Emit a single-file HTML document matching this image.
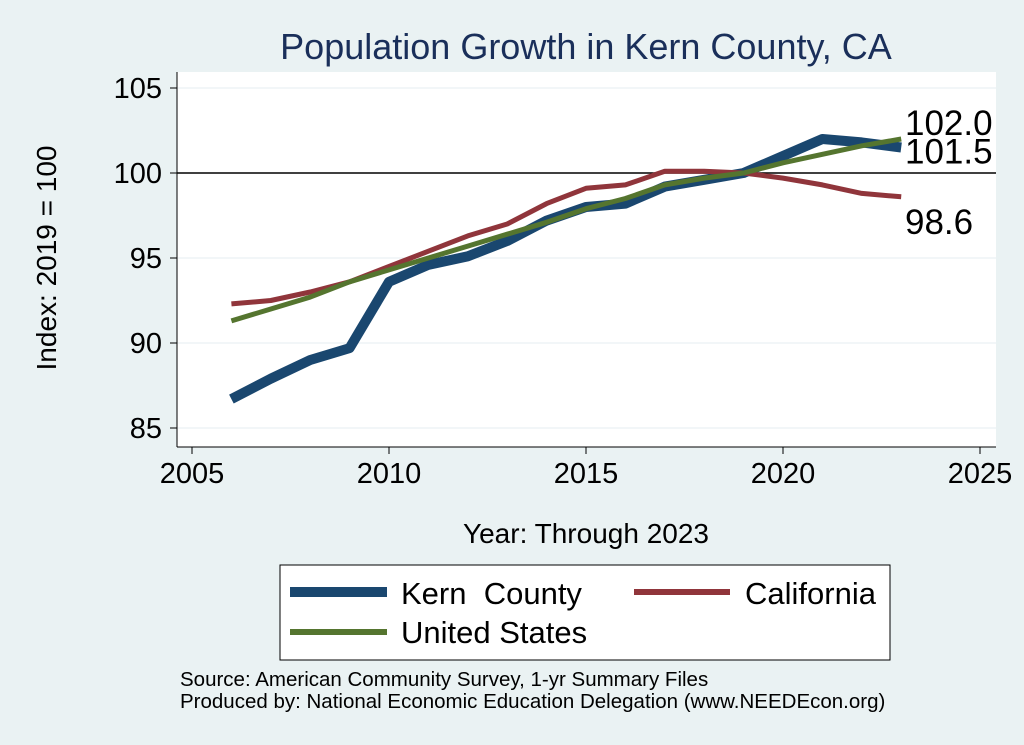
<!DOCTYPE html>
<html><head><meta charset="utf-8"><style>
body{margin:0;background:#eaf2f3;font-family:"Liberation Sans",sans-serif}
svg{display:block}
</style></head><body>
<svg width="1024" height="745">
<rect width="1024" height="745" fill="#eaf2f3"/>
<text x="586" y="59" text-anchor="middle" font-size="36" fill="#1a2f5a">Population Growth in Kern County, CA</text>
<rect x="177" y="72" width="819" height="375" fill="#fff"/>
<g id="grid"></g>
<g id="axes"></g>
<g id="series"></g>
<text x="56" y="258" transform="rotate(-90 56 258)" text-anchor="middle" font-size="28" fill="#000">Index: 2019 = 100</text>
<text x="586" y="543" text-anchor="middle" font-size="28" fill="#000">Year: Through 2023</text>
<g>
<rect x="280" y="565" width="610" height="95" fill="#fff" stroke="#000" stroke-width="1"/>
<line x1="290" y1="592" x2="387" y2="592" stroke="#1a476f" stroke-width="10"/>
<text x="401" y="604" font-size="31">Kern&#160; County</text>
<line x1="634" y1="592" x2="730" y2="592" stroke="#90353b" stroke-width="6"/>
<text x="745" y="604" font-size="31">California</text>
<line x1="290" y1="632" x2="387" y2="632" stroke="#55752f" stroke-width="6"/>
<text x="401" y="643" font-size="31">United States</text>
</g>
<text x="180" y="686" font-size="20.5">Source: American Community Survey, 1-yr Summary Files</text>
<text x="180" y="708" font-size="20.5">Produced by: National Economic Education Delegation (www.NEEDEcon.org)</text>
</svg>
<script>
const years=[2006,2007,2008,2009,2010,2011,2012,2013,2014,2015,2016,2017,2018,2019,2020,2021,2022,2023];
const kern=[86.7,87.9,89.0,89.7,93.6,94.6,95.1,96.0,97.2,98.0,98.2,99.2,99.6,100,101.0,102.0,101.8,101.5];
const california=[92.3,92.5,93.0,93.6,94.5,95.4,96.3,97.0,98.2,99.1,99.3,100.1,100.1,100,99.7,99.3,98.8,98.6];
const us=[91.3,92.0,92.7,93.6,94.3,95.0,95.7,96.4,97.1,97.9,98.5,99.3,99.7,100,100.6,101.1,101.6,102.0];
const xTicks=[2005,2010,2015,2020,2025];
const yTicks=[85,90,95,100,105];
const NS="http://www.w3.org/2000/svg";
const X=v=>192+(v-2005)*(980-192)/20;
const Y=v=>173-(v-100)*17;
function mk(p,t,a){const e=document.createElementNS(NS,t);for(const k in a)e.setAttribute(k,a[k]);p.appendChild(e);return e;}
const grid=document.getElementById('grid'),axes=document.getElementById('axes'),ser=document.getElementById('series');
yTicks.forEach(t=>{
 const g=mk(grid,'line',{x1:177,x2:996,y1:Y(t),y2:Y(t),stroke:t===100?'#000':'#e6eef0','stroke-width':t===100?1.5:1});
 
 
 mk(axes,'line',{x1:170,x2:177,y1:Y(t),y2:Y(t),stroke:'#000'});
 const l=mk(axes,'text',{x:162,y:Y(t)+10,'text-anchor':'end','font-size':29});
 l.textContent=t;
 
 
});
mk(axes,'line',{x1:177,x2:177,y1:72,y2:447,stroke:'#000'});
mk(axes,'line',{x1:177,x2:996,y1:447,y2:447,stroke:'#000'});
xTicks.forEach(t=>{
 mk(axes,'line',{x1:X(t),x2:X(t),y1:447,y2:454,stroke:'#000'});
 const l=mk(axes,'text',{x:X(t),y:483,'text-anchor':'middle','font-size':29});
 l.textContent=t;
 
 
});
function line(vals,col,w,name){
 const p=mk(ser,'polyline',{points:vals.map((v,i)=>X(years[i])+','+Y(v)).join(' '),fill:'none',stroke:col,'stroke-width':w,'stroke-linejoin':'round'});
 
 
}
line(kern,'#1a476f',10,'kern-line');
line(california,'#90353b',5,'california-line');
line(us,'#55752f',5,'us-line');
function lab(v,dy,name){
 const t=mk(ser,'text',{x:905,y:Y(v[v.length-1])+dy,'font-size':35});
 t.textContent=v[v.length-1].toFixed(1);
 
 
}
lab(us,-4,'us-end-label');
lab(kern,16,'kern-end-label');
lab(california,37,'california-end-label');
</script>
</body></html>
